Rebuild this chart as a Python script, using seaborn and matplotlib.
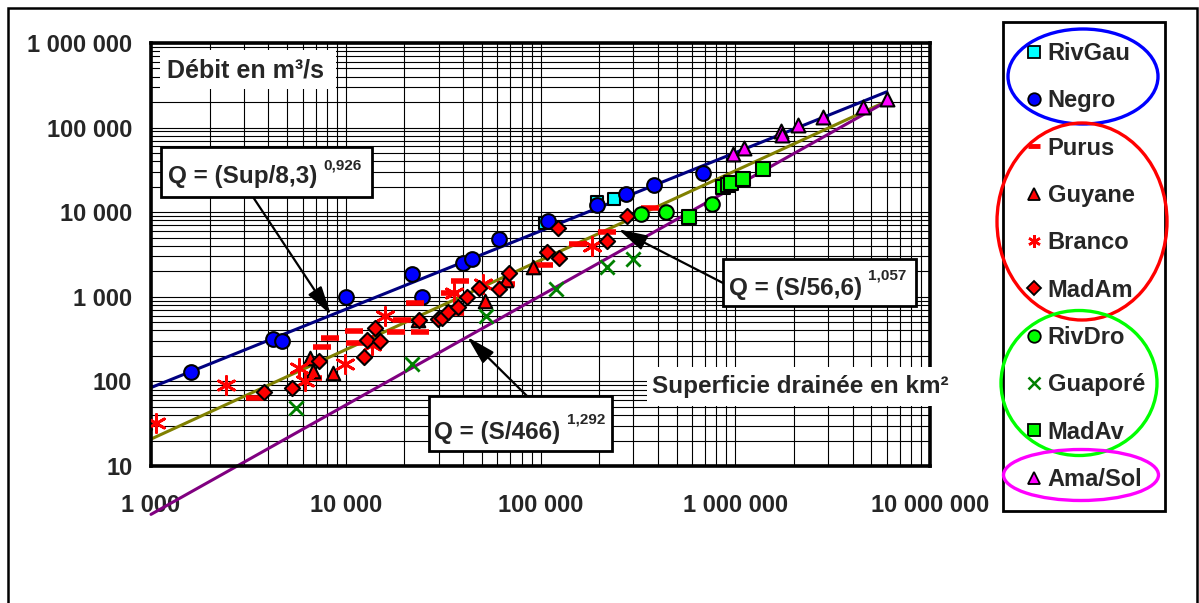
import matplotlib
matplotlib.use("Agg")
import numpy as np
import pandas as pd
import matplotlib.pyplot as plt
import seaborn as sns
from matplotlib.lines import Line2D
from matplotlib.patches import Ellipse, Rectangle
from matplotlib.ticker import LogLocator, FuncFormatter, NullFormatter


# values: drained area S (km²) and discharge Q (m³/s)
rivgau_s = [105000, 194000, 239000]
rivgau_q = [7400, 13300, 14200]

negro_s = [1610, 4210, 4710, 10000, 22000, 24500, 40200, 44400, 61400, 109000,
           194000, 275000, 383000, 686000]
negro_q = [129, 318, 301, 1000, 1880, 1000, 2530, 2820, 4870, 7800,
           12100, 16400, 20900, 29300]

purus_s = [3430, 6790, 7540, 8260, 10960, 11210, 18070, 19500, 22700, 24100,
           34300, 36600, 38500, 66500, 104000, 155000, 219000, 365000]
purus_q = [64, 111, 258, 330, 398, 282, 387, 532, 855, 387,
           1100, 637, 1550, 1416, 2400, 4200, 5890, 11100]

guyane_s = [6580, 6790, 8650, 23500, 52100, 66300, 91200]
guyane_q = [191, 131, 125, 531, 897, 1570, 2250]

branco_s = [1060, 2430, 5730, 6190, 9910, 13650, 15900, 35900, 50800, 183000]
branco_q = [32, 91, 143, 102, 160, 270, 593, 1117, 1416, 3980]

madam_s = [925, 3800, 5280, 7330, 12450, 12850, 14100, 15070, 23800, 29800,
           31300, 33500, 37500, 42000, 48200, 61100, 68500, 108000, 125000,
           123000, 219000, 279000]
madam_q = [27.5, 74, 83, 172, 193, 309, 432, 301, 531, 540,
           556, 654, 762, 1000, 1276, 1230, 1930, 3400, 2850,
           6560, 4600, 9020]

rivdro_s = [327000, 441000, 762000]
rivdro_q = [9450, 10100, 12500]

guapore_s = [5530, 22000, 52800, 120000, 219000, 297000]
guapore_q = [49, 160, 593, 1250, 2270, 2770]

madav_s = [581000, 869000, 922000, 955000, 1100000, 1390000]
madav_q = [8850, 20000, 21000, 21900, 24500, 32100]

amasol_s = [970000, 1110000, 1720000, 1730000, 2110000, 2810000, 4510000, 6000000]
amasol_q = [48300, 57800, 91900, 81000, 107000, 134000, 177000, 216000]

# end points of the three fitted power laws
fit_s = [1000, 6000000]
sup_fit_q = [84.5, 265000]    # Q = (Sup/8,3)^0,926
mid_fit_q = [20.8, 205000]    # Q = (S/56,6)^1,057
low_fit_q = [2.68, 204000]    # Q = (S/466)^1,292

names = ["RivGau", "Negro", "Purus", "Guyane", "Branco", "MadAm",
         "RivDro", "Guaporé", "MadAv", "Ama/Sol"]
all_s = [rivgau_s, negro_s, purus_s, guyane_s, branco_s, madam_s,
         rivdro_s, guapore_s, madav_s, amasol_s]
all_q = [rivgau_q, negro_q, purus_q, guyane_q, branco_q, madam_q,
         rivdro_q, guapore_q, madav_q, amasol_q]

df = pd.concat([pd.DataFrame({"S": s, "Q": q, "station": n})
                for n, s, q in zip(names, all_s, all_q)], ignore_index=True)

asterisk = (6, 2, 0)
styles = {
    "RivGau": dict(marker="s", color="#00FFFF", edgecolor="black", s=85, linewidth=1.5),
    "Negro": dict(marker="o", color="#0000FF", edgecolor="black", s=112, linewidth=1.5),
    "Purus": dict(marker="_", color="#FF0000", s=150, linewidth=4),
    "Guyane": dict(marker="^", color="#FF0000", edgecolor="black", s=95, linewidth=1.5),
    "Branco": dict(marker=asterisk, color="#FF0000", s=170, linewidth=2),
    "MadAm": dict(marker="D", color="#FF0000", edgecolor="black", s=60, linewidth=1.5),
    "RivDro": dict(marker="o", color="#00FF00", edgecolor="black", s=110, linewidth=1.5),
    "Guaporé": dict(marker="x", color="#008000", s=105, linewidth=2),
    "MadAv": dict(marker="s", color="#00FF00", edgecolor="black", s=90, linewidth=1.5),
    "Ama/Sol": dict(marker="^", color="#FF00FF", edgecolor="black", s=100, linewidth=1.5),
}

sns.set_style("white")
plt.rcParams["font.family"] = ["Liberation Sans", "DejaVu Sans"]
plt.rcParams["font.weight"] = "bold"

W, H = 1199, 603
fig = plt.figure(figsize=(W / 100, H / 100), dpi=100)


def fx(px):
    return px / W


def fy(py):
    return 1 - py / H


ax = fig.add_axes([fx(151), fy(466), fx(930) - fx(151), fy(43) - fy(466)])
ax.set_xscale("log")
ax.set_yscale("log")

# fitted lines
sns.lineplot(x=fit_s, y=sup_fit_q, color="#000080", linewidth=2.2, ax=ax)
sns.lineplot(x=fit_s, y=mid_fit_q, color="#808000", linewidth=2.2, ax=ax)
sns.lineplot(x=fit_s, y=low_fit_q, color="#800080", linewidth=2.2, ax=ax)
ax.lines[-1].set_clip_on(False)
for ln in ax.lines:
    ln.set_zorder(2)

for n in names:
    sns.scatterplot(data=df[df.station == n], x="S", y="Q", ax=ax, zorder=3,
                    legend=False, **styles[n])

ax.set_xlim(1e3, 1e7)
ax.set_ylim(10, 1e6)
ax.set_xlabel("")
ax.set_ylabel("")

fmt = FuncFormatter(lambda v, pos: f"{v:,.0f}".replace(",", " "))
for axis in (ax.xaxis, ax.yaxis):
    axis.set_major_locator(LogLocator(base=10, numticks=12))
    axis.set_minor_locator(LogLocator(base=10, subs=np.arange(2, 10), numticks=12))
    axis.set_major_formatter(fmt)
    axis.set_minor_formatter(NullFormatter())

ax.grid(True, which="both", color="black", linewidth=0.8)
ax.tick_params(which="major", direction="inout", length=11, width=1.8,
               labelsize=17, color="black")
ax.tick_params(which="minor", length=0)
ax.tick_params(axis="x", pad=15)
ax.tick_params(axis="y", pad=8)
for sp in ax.spines.values():
    sp.set_linewidth(2.6)
    sp.set_color("black")

# text boxes
def box(x0, y0, x1, y1, edge=True):
    r = Rectangle((fx(x0), fy(y1)), fx(x1) - fx(x0), fy(y0) - fy(y1),
                  transform=fig.transFigure, facecolor="white",
                  edgecolor="black" if edge else "none", linewidth=2, zorder=5)
    fig.add_artist(r)


box(160, 50, 336, 89, edge=False)
fig.text(fx(167), fy(70), "Débit en m³/s", fontsize=18, ha="left", va="center", zorder=6)

box(647, 367, 951, 406, edge=False)
fig.text(fx(652), fy(387), "Superficie drainée en km²", fontsize=17.5,
         ha="left", va="center", zorder=6)

box(161, 147, 372, 197)
fig.text(fx(168), fy(177), "Q = (Sup/8,3)", fontsize=17.5, ha="left", va="center", zorder=6)
fig.text(fx(323), fy(165), "0,926", fontsize=11, ha="left", va="center", zorder=6)

box(723, 259, 916, 306)
fig.text(fx(729), fy(288), "Q = (S/56,6)", fontsize=17.5, ha="left", va="center", zorder=6)
fig.text(fx(868), fy(276), "1,057", fontsize=11, ha="left", va="center", zorder=6)

box(429, 396, 612, 451)
fig.text(fx(434), fy(432), "Q = (S/466)", fontsize=17.5, ha="left", va="center", zorder=6)
fig.text(fx(567), fy(419), "1,292", fontsize=11, ha="left", va="center", zorder=6)

arrow = dict(arrowstyle="-|>,head_length=1.1,head_width=0.3", color="black",
             lw=1.6, mutation_scale=16, shrinkA=0, shrinkB=0)
ax.annotate("", xy=(8400, 610), xycoords="data", xytext=(fx(253), fy(197)),
            textcoords="figure fraction", arrowprops=arrow, annotation_clip=False)
ax.annotate("", xy=(251000, 6280), xycoords="data", xytext=(fx(723), fy(283)),
            textcoords="figure fraction", arrowprops=arrow, annotation_clip=False)
ax.annotate("", xy=(42100, 335), xycoords="data", xytext=(fx(527), fy(396)),
            textcoords="figure fraction", arrowprops=arrow, annotation_clip=False)

# legend
handles = []
for n in names:
    st = styles[n]
    filled = "edgecolor" in st
    handles.append(Line2D([], [], linestyle="none", marker=st["marker"],
                          markersize=9 if st["marker"] != "D" else 7,
                          markerfacecolor=st["color"],
                          markeredgecolor="black" if filled else st["color"],
                          markeredgewidth=1.3 if filled else (3.5 if n == "Purus" else 1.8)))
leg = fig.legend(handles, names, loc="upper left",
                 bbox_to_anchor=(fx(1003), fy(22)), bbox_transform=fig.transFigure,
                 frameon=True, fancybox=False, edgecolor="black", framealpha=1,
                 borderaxespad=0, borderpad=0.85, labelspacing=1.03,
                 handlelength=0.9, handletextpad=0.15, fontsize=17)
leg.get_frame().set_linewidth(2)

for (cx, cy, w, h, c) in [(1083, 76.5, 150, 95, "#0000FF"),
                          (1082, 221.5, 170, 197, "#FF0000"),
                          (1079, 383, 156, 145, "#00FF00"),
                          (1081, 475, 155, 51, "#FF00FF")]:
    fig.add_artist(Ellipse((fx(cx), fy(cy)), w / W, h / H, transform=fig.transFigure,
                           fill=False, edgecolor=c, linewidth=2.4, zorder=7))

# outer chart frame
fig.add_artist(Rectangle((fx(8), fy(612)), fx(1197) - fx(8), fy(8) - fy(612),
                         transform=fig.transFigure, fill=False, edgecolor="black",
                         linewidth=1.8, clip_on=False, zorder=8))

fig.savefig("out.png", dpi=100)
